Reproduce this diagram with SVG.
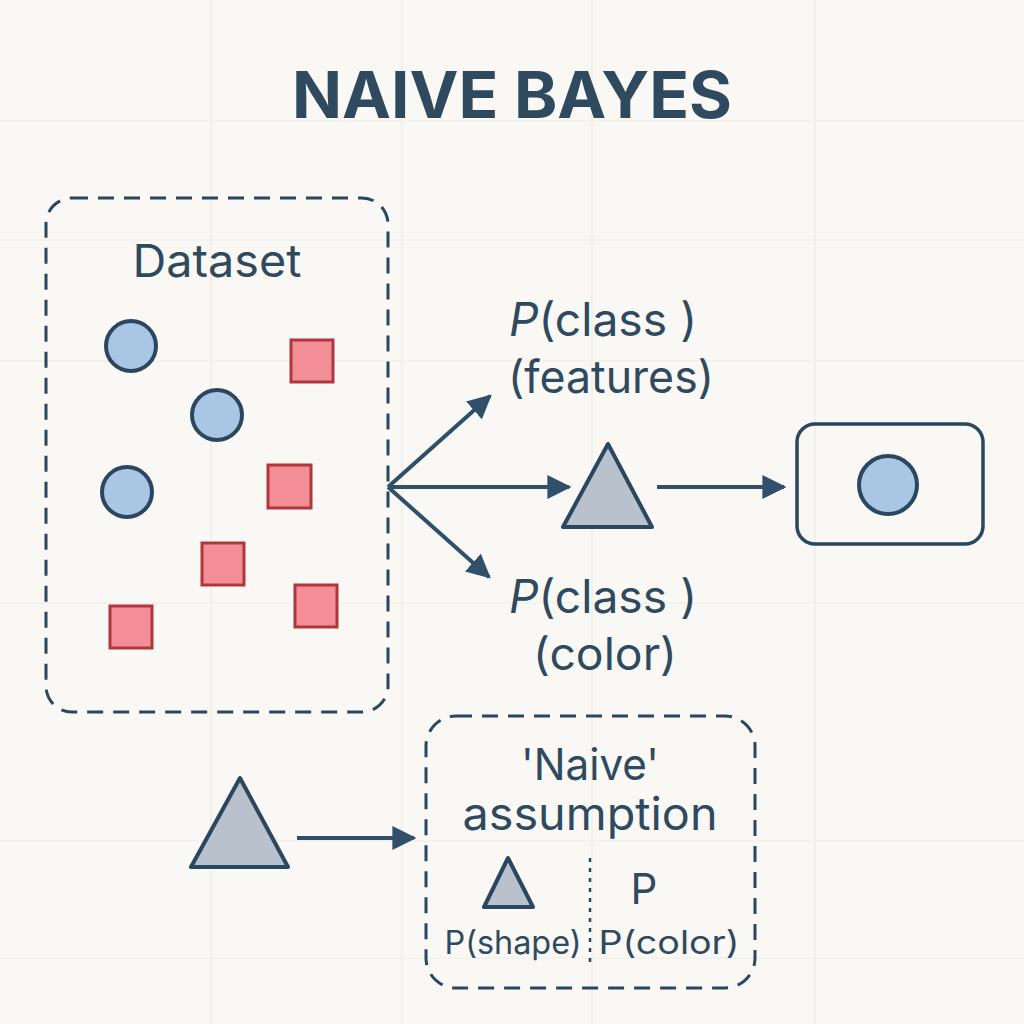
<svg xmlns="http://www.w3.org/2000/svg" width="1024" height="1024" viewBox="0 0 1024 1024">
<defs>
<style>
.t{font-family:Inter,"Noto Sans","Liberation Sans",sans-serif;fill:#2f4a5e}
.dash{fill:none;stroke:#2b4760;stroke-width:3;stroke-dasharray:16 10}
.ln{stroke:#2f4f6a;stroke-width:4;fill:none}
.circ{fill:#a9c6e4;stroke:#2b4760;stroke-width:4}
.sq{fill:#f48e96;stroke:#b0363d;stroke-width:3}
.tri{fill:#b8c1cc;stroke:#2b4760;stroke-width:4;stroke-linejoin:round}
.grid{stroke:#eeebe6;stroke-width:1.2}
</style>
<marker id="ah" viewBox="0 0 10 10" refX="9" refY="5" markerWidth="6" markerHeight="6" markerUnits="strokeWidth" orient="auto">
<path d="M0,0 L10,5 L0,10 z" fill="#2f4f6a"/>
</marker>
</defs>
<rect width="1024" height="1024" fill="#faf8f5"/>
<g id="grid">
<line class="grid" x1="211" y1="0" x2="211" y2="1024"/>
<line class="grid" x1="402" y1="0" x2="402" y2="1024"/>
<line class="grid" x1="592" y1="0" x2="592" y2="1024"/>
<line class="grid" x1="815" y1="0" x2="815" y2="1024"/>
<line class="grid" x1="0" y1="121" x2="1024" y2="121"/>
<line class="grid" x1="0" y1="240" x2="1024" y2="240"/>
<line class="grid" x1="0" y1="361" x2="1024" y2="361"/>
<line class="grid" x1="0" y1="603" x2="1024" y2="603"/>
<line class="grid" x1="0" y1="841" x2="1024" y2="841"/>
<line class="grid" x1="0" y1="958" x2="1024" y2="958"/>
</g>
<text class="t" x="512" y="118" text-anchor="middle" font-size="64" font-weight="700" textLength="440" lengthAdjust="spacingAndGlyphs">NAIVE BAYES</text>
<g id="dataset">
<rect class="dash" x="46" y="198" width="342" height="514" rx="26"/>
<text class="t" x="217" y="277" text-anchor="middle" font-size="45" textLength="169" lengthAdjust="spacingAndGlyphs">Dataset</text>
<circle class="circ" cx="131" cy="346" r="25"/>
<circle class="circ" cx="217" cy="415" r="25"/>
<circle class="circ" cx="127" cy="492" r="25"/>
<rect class="sq" x="291" y="340" width="42" height="42"/>
<rect class="sq" x="268" y="465" width="43" height="43"/>
<rect class="sq" x="202" y="543" width="42" height="42"/>
<rect class="sq" x="295" y="585" width="42" height="42"/>
<rect class="sq" x="110" y="606" width="42" height="42"/>
</g>
<g id="connectors">
<line class="ln" x1="388" y1="487" x2="490" y2="396" marker-end="url(#ah)"/>
<line class="ln" x1="388" y1="487" x2="569" y2="487" marker-end="url(#ah)"/>
<line class="ln" x1="388" y1="487" x2="489" y2="577" marker-end="url(#ah)"/>
<line class="ln" x1="657" y1="487" x2="784" y2="487" marker-end="url(#ah)"/>
<line class="ln" x1="297" y1="838" x2="414" y2="838" marker-end="url(#ah)"/>
</g>
<g id="p-features">
<text class="t" x="509" y="336" font-size="46" textLength="188" lengthAdjust="spacingAndGlyphs"><tspan font-style="italic">P</tspan>(class )</text>
<text class="t" x="508" y="393" font-size="45" textLength="206" lengthAdjust="spacingAndGlyphs">(features)</text>
</g>
<g id="p-color">
<text class="t" x="509" y="613" font-size="46" textLength="188" lengthAdjust="spacingAndGlyphs"><tspan font-style="italic">P</tspan>(class )</text>
<text class="t" x="533" y="670" font-size="45" textLength="144" lengthAdjust="spacingAndGlyphs">(color)</text>
</g>
<g id="triangle-mid">
<polygon class="tri" points="608,444 563,527 652,527"/>
</g>
<g id="result">
<rect x="797" y="424" width="186" height="120" rx="18" fill="none" stroke="#2b4760" stroke-width="3.5"/>
<circle class="circ" cx="888" cy="485" r="29"/>
</g>
<g id="triangle-bottom">
<polygon class="tri" points="240,778 191,867 288,867"/>
</g>
<g id="naive-assumption">
<rect class="dash" x="426" y="716" width="329" height="272" rx="30"/>
<text class="t" x="590" y="780" text-anchor="middle" font-size="44" textLength="138" lengthAdjust="spacingAndGlyphs">'Naive'</text>
<text class="t" x="590" y="830" text-anchor="middle" font-size="45" textLength="255" lengthAdjust="spacingAndGlyphs">assumption</text>
<polygon class="tri" points="508,858 484,907 533,907" stroke-width="3.5"/>
<line x1="590" y1="858" x2="590" y2="966" stroke="#2b4760" stroke-width="2.5" stroke-dasharray="4 6"/>
<text class="t" x="644" y="904" text-anchor="middle" font-size="42">P</text>
<text class="t" x="513" y="954" text-anchor="middle" font-size="32" textLength="137" lengthAdjust="spacingAndGlyphs">P(shape)</text>
<text class="t" x="669" y="954" text-anchor="middle" font-size="32" textLength="141" lengthAdjust="spacingAndGlyphs">P(color)</text>
</g>
</svg>
